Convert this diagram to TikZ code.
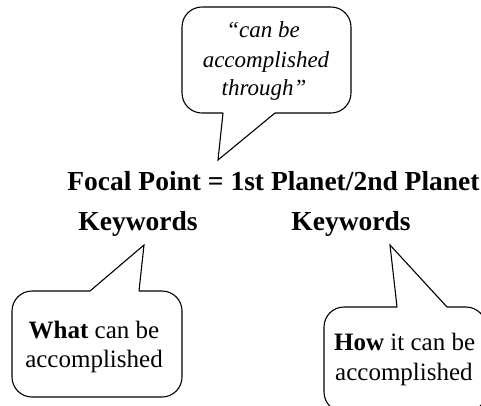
\documentclass[tikz,border=0pt]{standalone}
\usepackage{fontspec}
\setmainfont{Liberation Serif}
\begin{document}
\begin{tikzpicture}[x=1pt,y=-1pt,
  outline/.style={line width=1.1pt, line join=round, rounded corners=20pt},
  tailline/.style={line width=1.1pt, line join=miter},
  headtxt/.style={font=\fontsize{27.5}{32}\selectfont\bfseries, inner sep=0pt, anchor=base},
  quotetxt/.style={font=\fontsize{23}{28}\selectfont\itshape, inner sep=0pt, anchor=base},
  boxtxt/.style={font=\fontsize{25}{30}\selectfont, inner sep=0pt, anchor=base}]
\useasboundingbox (0,0) rectangle (481,405);
\clip (0,0) rectangle (481,405);

% top bubble
\coordinate (tL) at (223,113);
\coordinate (tR) at (275,113);
\coordinate (tTip) at (218,160);
\draw[outline] (tR) -- (351,113) -- (351,7) -- (182,7) -- (182,113) -- (tL);
\draw[tailline] (tL) -- (tTip) -- (tR);
\node[quotetxt] (q1) at (263,37) {“can be};
\node[quotetxt] (q2) at (266,67) {accomplished};
\node[quotetxt] (q3) at (264,95) {through”};

% main text
\node[headtxt] (focal) at (273.5,190) {Focal Point = 1st Planet/2nd Planet};
\node[headtxt] (kw1) at (138,230) {Keywords};
\node[headtxt] (kw2) at (351,230) {Keywords};

% left bubble
\coordinate (lL) at (90,291);
\coordinate (lR) at (139,291);
\coordinate (lTip) at (144,245);
\draw[outline] (lR) -- (182,291) -- (182,397) -- (12,397) -- (12,291) -- (lL);
\draw[tailline] (lL) -- (lTip) -- (lR);
\node[boxtxt] (w1) at (94,338) {\textbf{What} can be};
\node[boxtxt] (w2) at (94,367) {accomplished};

% right bubble
\coordinate (rL) at (397,307);
\coordinate (rR) at (447,307);
\coordinate (rTip) at (390,245);
\draw[outline] (rR) -- (486,307) -- (486,412) -- (324,412) -- (324,307) -- (rL);
\draw[tailline] (rL) -- (rTip) -- (rR);
\node[boxtxt, anchor=base west] (h1) at (334,350) {\textbf{How} it can be};
\node[boxtxt, anchor=base west] (h2) at (335,380) {accomplished};
\end{tikzpicture}
\end{document}
